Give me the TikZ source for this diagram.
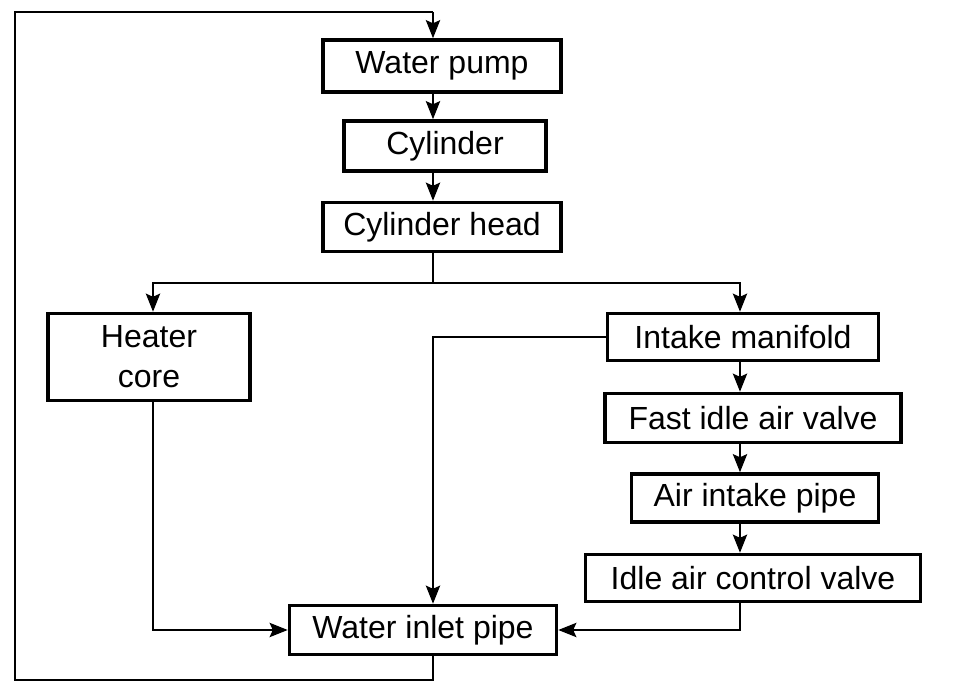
\documentclass[tikz,border=0pt]{standalone}
\usepackage{fontspec}
\setmainfont{Liberation Sans}
\usetikzlibrary{arrows.meta, positioning, calc}

\tikzset{
  unitbox/.style={draw, line width=1.7pt, inner sep=0pt, align=center,
                  font=\fontsize{16}{20}\selectfont},
  flow/.style={line width=1.4pt, -{Stealth[length=9pt, width=7pt, inset=1.5pt]}},
  pipe/.style={line width=1.4pt}
}

\begin{document}
\begin{tikzpicture}[x=0.5pt, y=-0.5pt]
    \useasboundingbox (0,0) rectangle (960,694);
    % Main chain
    \node[unitbox, minimum width=119pt, minimum height=26pt] (pump) at (442,66) {Water pump};
    \node[unitbox, minimum width=101pt, minimum height=25pt] (cyl) at (445,146) {Cylinder};
    \node[unitbox, minimum width=119pt, minimum height=24.5pt] (head) at (442,227) {Cylinder head};
    % Heater branch
    \node[unitbox, minimum width=101pt, minimum height=43.5pt] (heater) at (149,357) {Heater\\core};
    % Intake branch
    \node[unitbox, minimum width=135.5pt, minimum height=23.5pt] (manifold) at (743,337) {Intake manifold};
    \node[unitbox, minimum width=148pt, minimum height=24.5pt] (fastidle) at (753,418) {Fast idle air valve};
    \node[unitbox, minimum width=123.5pt, minimum height=24pt] (airpipe) at (755,498) {Air intake pipe};
    \node[unitbox, minimum width=167.5pt, minimum height=23.5pt] (iacv) at (753,578) {Idle air control valve};
    % Return
    \node[unitbox, minimum width=133.5pt, minimum height=24.5pt] (inlet) at (423,630) {Water inlet pipe};

    % Routing points
    \coordinate (spine) at (433,12);
    \coordinate (loopnw) at (15,12);
    \coordinate (loopsw) at (15,680);
    \coordinate (split) at (433,283);
    \coordinate (heatx) at (153,283);
    \coordinate (rightx) at (740,283);

    % Arrows down the main chain
    \draw[flow] (spine) -- (pump.north -| spine);
    \draw[flow] (pump.south -| spine) -- (cyl.north -| spine);
    \draw[flow] (cyl.south -| spine) -- (head.north -| spine);
    \draw[pipe] (head.south -| spine) -- (split);
    \draw[flow] (split) -- (heatx) -- (heater.north -| heatx);
    \draw[flow] (split) -- (rightx) -- (manifold.north -| rightx);
    % Intake chain
    \draw[flow] (manifold.south -| rightx) -- (fastidle.north -| rightx);
    \draw[flow] (fastidle.south -| rightx) -- (airpipe.north -| rightx);
    \draw[flow] (airpipe.south -| rightx) -- (iacv.north -| rightx);
    % Into the water inlet pipe
    \draw[flow] (heater.south -| heatx) |- (inlet.west);
    \draw[flow] (manifold.west) -| (inlet.north -| spine);
    \draw[flow] (iacv.south -| rightx) |- (inlet.east);
    % Loop back to the pump
    \draw[pipe] (inlet.south -| spine) |- (loopsw) -- (loopnw) -- (spine);
\end{tikzpicture}
\end{document}
